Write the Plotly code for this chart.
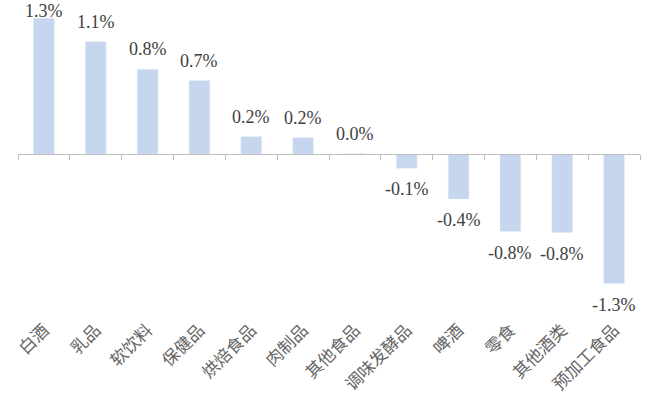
import plotly.graph_objects as go

categories = ["白酒", "乳品", "软饮料", "保健品", "烘焙食品", "肉制品", "其他食品",
              "调味发酵品", "啤酒", "零食", "其他酒类", "预加工食品"]
values = [1.33, 1.10, 0.83, 0.72, 0.17, 0.16, 0.003, -0.14, -0.44, -0.76, -0.77, -1.27]
labels = ["1.3%", "1.1%", "0.8%", "0.7%", "0.2%", "0.2%", "0.0%",
          "-0.1%", "-0.4%", "-0.8%", "-0.8%", "-1.3%"]

ymin, ymax = -1.588, 1.431
zero_pos = (0 - ymin) / (ymax - ymin)

fig = go.Figure()
fig.add_trace(go.Bar(x=categories, y=values, marker_color="#c5d6ee", width=0.4,
                     hoverinfo="skip", cliponaxis=False))
fig.add_trace(go.Bar(x=categories, y=values, xaxis="x2", marker_opacity=0,
                     width=0.4, hoverinfo="skip"))

vmax = max(values)
for c, v, t in zip(categories, values, labels):
    if v >= 0:
        shift = 7 if v == vmax else 20
    else:
        shift = -21
    fig.add_annotation(x=c, y=v, text=t, showarrow=False, yshift=shift,
                       font=dict(family="Liberation Serif, Times New Roman, serif",
                                 size=18, color="#404040"))

fig.update_layout(
    width=648, height=410,
    margin=dict(l=18, r=8, t=8, b=94, autoexpand=False),
    paper_bgcolor="white", plot_bgcolor="white",
    showlegend=False, barmode="overlay",
    xaxis=dict(range=[-0.5, 11.5], tickangle=-45, showline=False, ticks="",
               showgrid=False, zeroline=False, automargin=False,
               tickfont=dict(family="Noto Sans CJK SC", size=17, color="#666666")),
    xaxis2=dict(range=[-0.5, 11.5], overlaying="x", anchor="free", position=zero_pos,
                showline=True, linecolor="#bfbfbf", linewidth=1, automargin=False,
                ticks="outside", tickson="boundaries", ticklen=5, tickcolor="#bfbfbf",
                showticklabels=False, showgrid=False, zeroline=False),
    yaxis=dict(range=[ymin, ymax], visible=False, showgrid=False, zeroline=False,
               automargin=False),
)

fig.write_html("out.html", config={"displayModeBar": False},
               post_script="document.body.style.margin='0';")
